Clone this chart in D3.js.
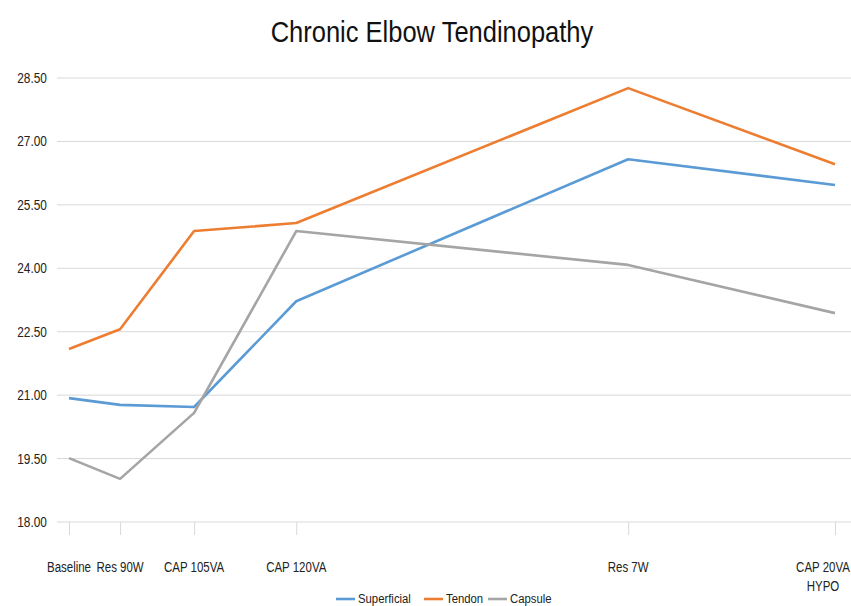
<!DOCTYPE html>
<html><head><meta charset="utf-8">
<script src="https://cdn.jsdelivr.net/npm/d3@7"></script>
<style>body{margin:0;background:#fff;overflow:hidden}svg{display:block}</style>
</head><body><svg id="c" width="851" height="606"></svg>
<script>
const categories = ["Baseline", "Res 90W", "CAP 105VA", "CAP 120VA", "Res 7W", "CAP 20VA\nHYPO"];
const timePoints = [0, 1, 2.45, 4.45, 10.95, 15];
const superficial = [20.93, 20.77, 20.72, 23.22, 26.58, 25.97];
const tendon = [22.09, 22.56, 24.88, 25.07, 28.26, 26.46];
const capsule = [19.51, 19.02, 20.58, 24.88, 24.08, 22.94];
const yTicks = [18, 19.5, 21, 22.5, 24, 25.5, 27, 28.5];
const seriesNames = ["Superficial", "Tendon", "Capsule"];
const colors = ["#5B9BD5", "#ED7D31", "#A5A5A5"];

const font = "'Liberation Sans', Arial, sans-serif";
const svg = d3.select("#c");
const x = d3.scaleLinear().domain([0, 15]).range([69, 835]);
const y = d3.scaleLinear().domain([18, 28.5]).range([522, 78]);

// condense text horizontally around its anchor (narrow-font look)
function squeeze(sel, f) {
  sel.each(function() {
    const ax = +this.getAttribute("x");
    d3.select(this).attr("transform", `translate(${ax},0) scale(${f},1) translate(${-ax},0)`);
  });
}

const title = svg.append("text").attr("x", 432).attr("y", 42).attr("text-anchor", "middle")
  .attr("font-family", font).attr("font-size", 30).attr("fill", "#111")
  .text("Chronic Elbow Tendinopathy");
squeeze(title, 0.85);

// grid
svg.append("g").selectAll("line").data(yTicks.slice(1)).join("line")
  .attr("x1", 57).attr("x2", 851).attr("y1", d => y(d)).attr("y2", d => y(d))
  .attr("stroke", "#d9d9d9").attr("stroke-width", 1);
// y labels
const yl = svg.append("g").selectAll("text").data(yTicks).join("text")
  .attr("x", 47).attr("y", d => y(d) + 5).attr("text-anchor", "end")
  .attr("font-family", font).attr("font-size", 14.5).attr("fill", "#222")
  .text(d => d3.format(".2f")(d));
squeeze(yl, 0.82);

// x axis
const xAxis = d3.axisBottom(x).tickValues(timePoints).tickSize(13).tickFormat("");
const gx = svg.append("g").attr("transform", "translate(0,522)").call(xAxis);
gx.select(".domain").remove();
gx.selectAll(".tick line").attr("stroke", "#d9d9d9");
svg.append("line").attr("x1", 57).attr("x2", 851).attr("y1", 522).attr("y2", 522).attr("stroke", "#d9d9d9");

const xlbl = svg.append("g");
categories.forEach((c, i) => {
  c.split("\n").forEach((l, k) => {
    const t = xlbl.append("text").attr("x", x(timePoints[i]) - (i === 5 ? 12 : 0)).attr("y", 572 + k * 19)
      .attr("text-anchor", "middle").attr("font-family", font).attr("font-size", 14)
      .attr("fill", "#222").text(l);
    squeeze(t, 0.82);
  });
});

const line = d3.line().x((d, i) => x(timePoints[i])).y(d => y(d));
[superficial, tendon, capsule].forEach((s, k) => {
  svg.append("path").attr("d", line(s)).attr("fill", "none")
    .attr("stroke", colors[k]).attr("stroke-width", 2.6).attr("stroke-linejoin", "round");
});

// legend
const lx = [336, 424, 488];
const lg = svg.append("g");
seriesNames.forEach((n, k) => {
  lg.append("line").attr("x1", lx[k]).attr("x2", lx[k] + 19).attr("y1", 599).attr("y2", 599)
    .attr("stroke", colors[k]).attr("stroke-width", 2.6);
  const t = lg.append("text").attr("x", lx[k] + 22).attr("y", 603.5).attr("font-family", font)
    .attr("font-size", 13.5).attr("fill", "#222").text(n);
  squeeze(t, 0.84);
});
</script></body></html>
